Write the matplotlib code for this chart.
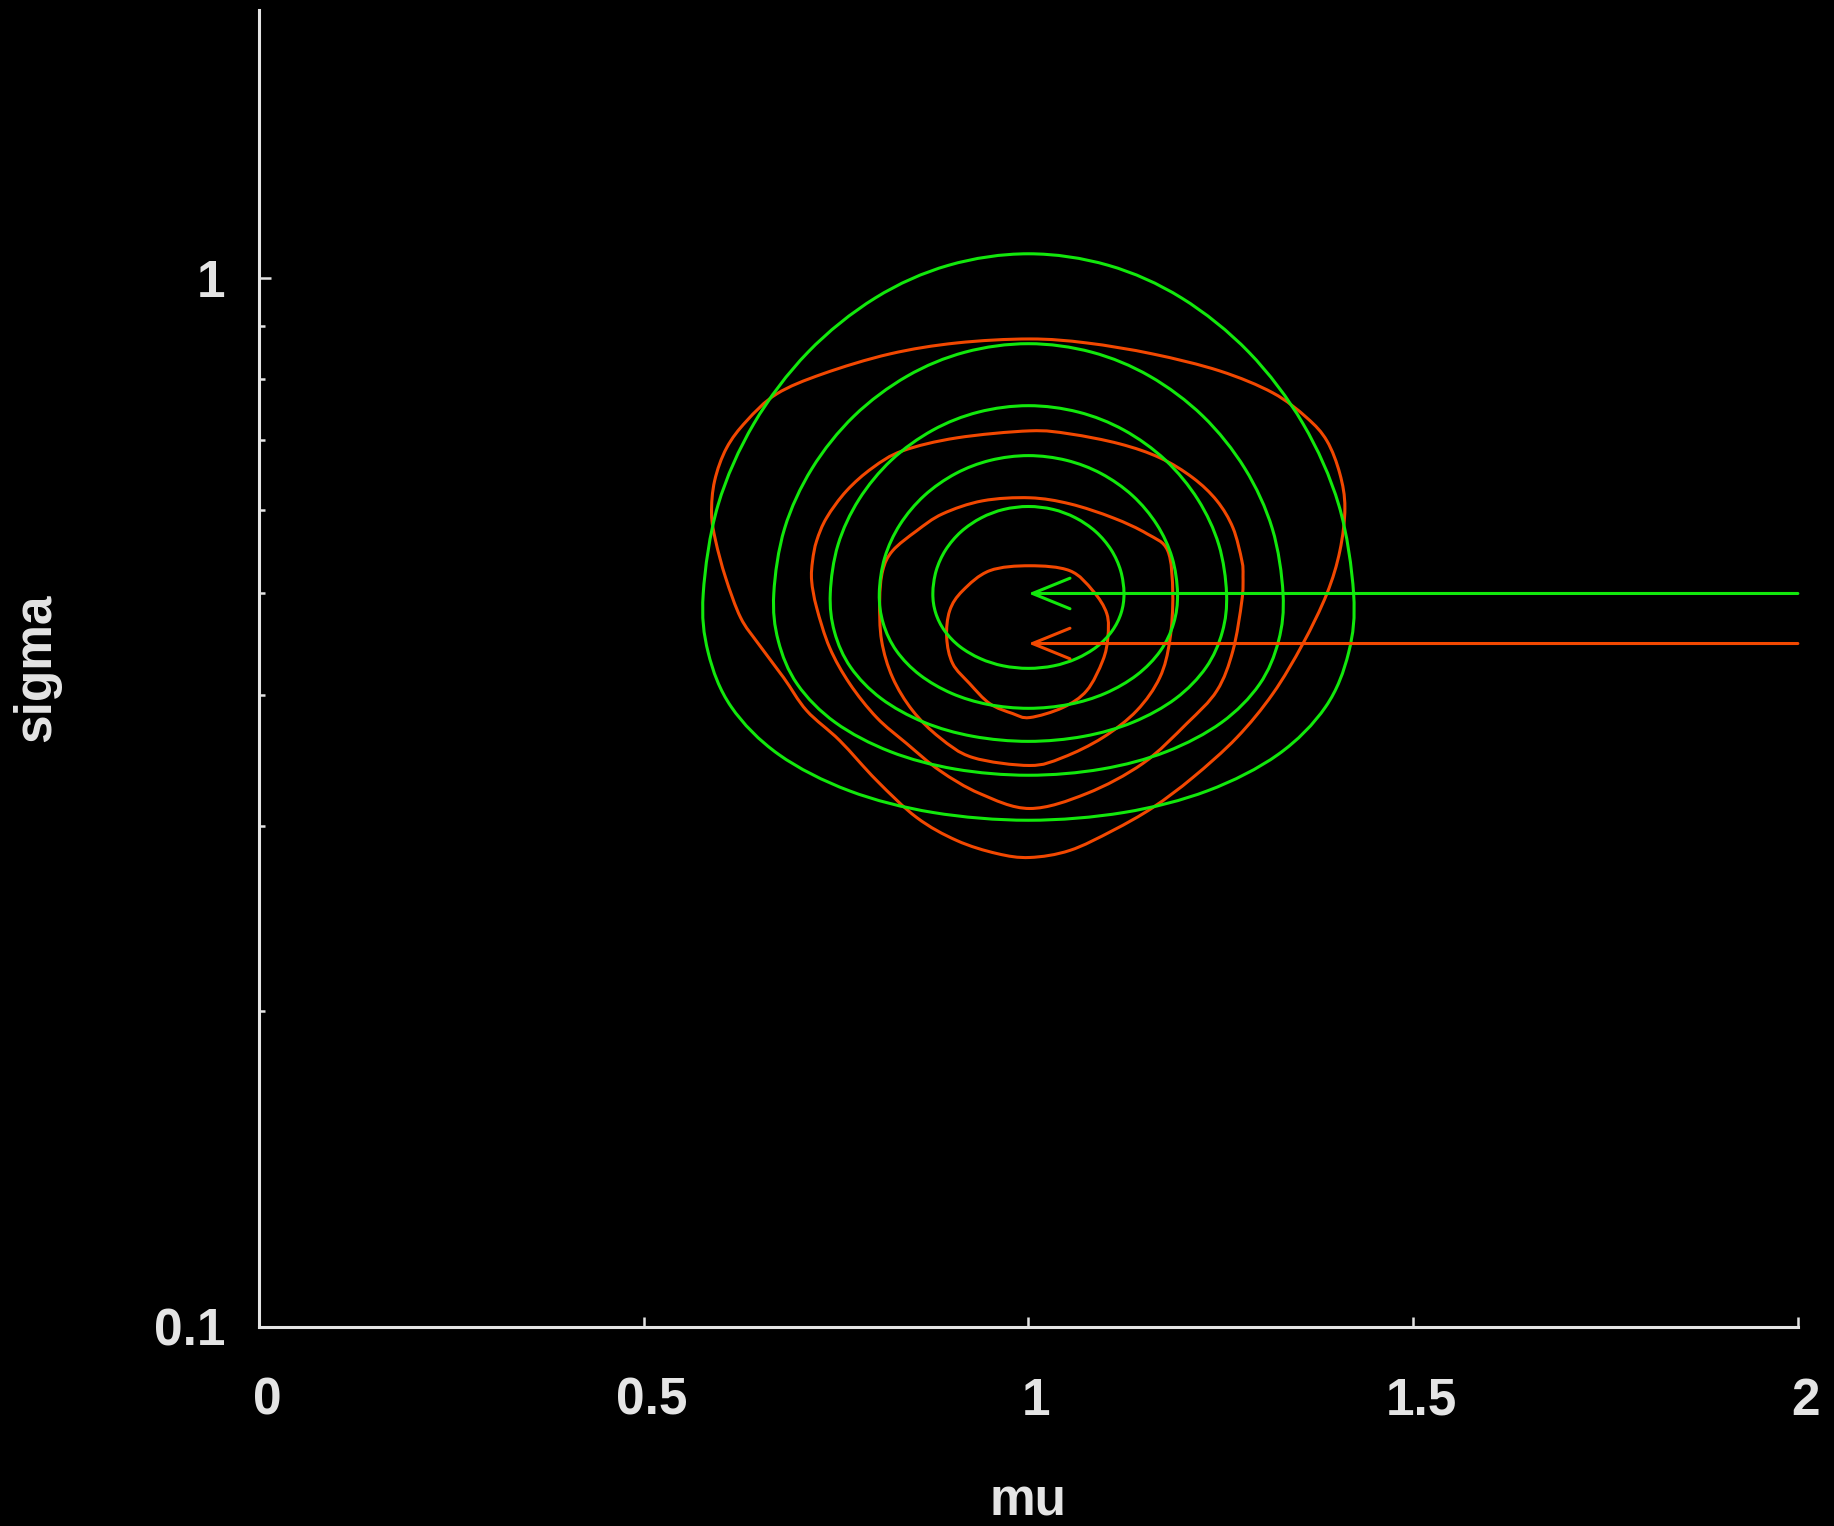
import numpy as np
import matplotlib
matplotlib.use('Agg')
import matplotlib.pyplot as plt
from matplotlib.path import Path
from matplotlib.patches import PathPatch
from matplotlib.ticker import FixedLocator, FixedFormatter, NullFormatter
from matplotlib.transforms import ScaledTranslation

# axis ticks
mu_ticks = [0, 0.5, 1, 1.5, 2]
mu_tick_labels = ['0', '0.5', '1', '1.5', '2']
sigma_ticks = [0.1, 1]
sigma_tick_labels = ['0.1', '1']
sigma_minor = [0.2, 0.3, 0.4, 0.5, 0.6, 0.7, 0.8, 0.9]

# exact posterior contours (green), sigma stored as log10
g1_mu = [1.4226, 1.4034, 1.3568, 1.2866, 1.1990, 1.1039, 1.0, 0.8961, 0.8010, 0.7134, 0.6432, 0.5966,
         0.5774, 0.5838, 0.6138, 0.6755, 0.7671, 0.8760, 1.0, 1.1240, 1.2329, 1.3245, 1.3862, 1.4162]
g1_lsig = [-0.301, -0.2168, -0.1391, -0.0711, -0.0193, 0.0118, 0.0228, 0.0118, -0.0193, -0.0711, -0.1391, -0.2168,
           -0.301, -0.3572, -0.4091, -0.4545, -0.4891, -0.5098, -0.5172, -0.5098, -0.4891, -0.4545, -0.4091, -0.3572]
g2_mu = [1.3309, 1.3169, 1.2813, 1.2267, 1.1577, 1.0824, 1.0, 0.9176, 0.8423, 0.7733, 0.7187, 0.6831,
         0.6691, 0.6749, 0.6998, 0.7490, 0.8206, 0.9047, 1.0, 1.0953, 1.1794, 1.2510, 1.3002, 1.3251]
g2_lsig = [-0.301, -0.2391, -0.1819, -0.1319, -0.0939, -0.0710, -0.0629, -0.0710, -0.0939, -0.1319, -0.1819, -0.2391,
           -0.301, -0.3461, -0.3877, -0.4240, -0.4518, -0.4684, -0.4743, -0.4684, -0.4518, -0.4240, -0.3877, -0.3461]
g3_mu = [1.2575, 1.2474, 1.2203, 1.1781, 1.1242, 1.0649, 1.0, 0.9351, 0.8758, 0.8219, 0.7797, 0.7526,
         0.7425, 0.7480, 0.7691, 0.8085, 0.8639, 0.9280, 1.0, 1.0720, 1.1361, 1.1915, 1.2309, 1.2520]
g3_lsig = [-0.301, -0.2545, -0.2115, -0.1739, -0.1453, -0.1281, -0.1220, -0.1281, -0.1453, -0.1739, -0.2115, -0.2545,
           -0.301, -0.3377, -0.3715, -0.4011, -0.4237, -0.4372, -0.4420, -0.4372, -0.4237, -0.4011, -0.3715, -0.3377]
g4_mu = [1.1938, 1.1867, 1.1669, 1.1353, 1.0945, 1.0495, 1.0, 0.9505, 0.9055, 0.8647, 0.8331, 0.8133,
         0.8062, 0.8113, 0.8286, 0.8590, 0.9004, 0.9475, 1.0, 1.0525, 1.0996, 1.1410, 1.1714, 1.1887]
g4_lsig = [-0.301, -0.2668, -0.2353, -0.2077, -0.1867, -0.1741, -0.1696, -0.1741, -0.1867, -0.2077, -0.2353, -0.2668,
           -0.301, -0.3295, -0.3558, -0.3787, -0.3963, -0.4068, -0.4105, -0.4068, -0.3963, -0.3787, -0.3558, -0.3295]
g5_mu = [1.1242, 1.1199, 1.1076, 1.0875, 1.0612, 1.0321, 1.0, 0.9679, 0.9388, 0.9125, 0.8924, 0.8801,
         0.8758, 0.8795, 0.8912, 0.9110, 0.9375, 0.9671, 1.0, 1.0329, 1.0625, 1.0890, 1.1088, 1.1205]
g5_lsig = [-0.301, -0.2794, -0.2595, -0.2421, -0.2289, -0.2209, -0.2181, -0.2209, -0.2289, -0.2421, -0.2595, -0.2794,
           -0.301, -0.3196, -0.3367, -0.3517, -0.3631, -0.3700, -0.3724, -0.3700, -0.3631, -0.3517, -0.3367, -0.3196]

# sampled contours (red), sigma stored as log10
r1_mu = [1.4113, 1.4048, 1.3879, 1.3619, 1.3177, 1.2488, 1.1616, 1.0758, 1.0017, 0.9068, 0.8197, 0.7326, 0.6728,
         0.6338, 0.6078, 0.5922, 0.5882, 0.5935, 0.6065, 0.6260, 0.6490, 0.6818, 0.7118, 0.7547, 0.8028, 0.8548,
         0.9068, 0.9588, 1.0017, 1.0537, 1.1096, 1.1616, 1.2136, 1.2708, 1.3177, 1.3567, 1.3879, 1.4048]
r1_lsig = [-0.2193, -0.1870, -0.1555, -0.1336, -0.1098, -0.0889, -0.0727, -0.0622, -0.0584, -0.0622, -0.0727, -0.0917,
           -0.1108, -0.1365, -0.1622, -0.1936, -0.2250, -0.2508, -0.2860, -0.3241, -0.3489, -0.3812, -0.4127, -0.4412,
           -0.4793, -0.5146, -0.5365, -0.5489, -0.5527, -0.5460, -0.5270, -0.5051, -0.4765, -0.4384, -0.3965, -0.3489,
           -0.3012, -0.2603]
r2_mu = [1.2789, 1.2774, 1.2658, 1.2450, 1.2138, 1.1709, 1.1187, 1.0537, 1.0017, 0.9068, 0.8366, 0.7975, 0.7637,
         0.7377, 0.7248, 0.7195, 0.7183, 0.7248, 0.7417, 0.7677, 0.8028, 0.8418, 0.8847, 0.9367, 1.0017, 1.0758,
         1.1486, 1.2058, 1.2450, 1.2658, 1.2774]
r2_lsig = [-0.2843, -0.2698, -0.2384, -0.2127, -0.1908, -0.1717, -0.1584, -0.1489, -0.1460, -0.1527, -0.1650, -0.1812,
           -0.2031, -0.2289, -0.2508, -0.2698, -0.2889, -0.3146, -0.3527, -0.3870, -0.4193, -0.4441, -0.4698, -0.4917,
           -0.5060, -0.4917, -0.4631, -0.4250, -0.3936, -0.3555, -0.3079]
r3_mu = [1.1876, 1.1811, 1.1541, 1.1099, 1.0540, 1.0017, 0.9405, 0.8885, 0.8547, 0.8235, 0.8106, 0.8067, 0.8092,
         0.8235, 0.8495, 0.8847, 0.9276, 1.0017, 1.0446, 1.0966, 1.1408, 1.1707, 1.1837]
r3_lsig = [-0.3014, -0.2603, -0.2441, -0.2289, -0.2156, -0.2098, -0.2127, -0.2251, -0.2413, -0.2603, -0.2793, -0.3079,
           -0.3460, -0.3812, -0.4127, -0.4384, -0.4574, -0.4650, -0.4574, -0.4384, -0.4127, -0.3812, -0.3460]
r4_mu = [1.1032, 1.1019, 1.0837, 1.0537, 1.0017, 0.9497, 0.9145, 0.8977, 0.8938, 0.9016, 0.9237, 0.9497, 0.9796,
         1.0017, 1.0446, 1.0758, 1.0966]
r4_lsig = [-0.3432, -0.3203, -0.2984, -0.2793, -0.2746, -0.2793, -0.2984, -0.3174, -0.3432, -0.3679, -0.3870, -0.4060,
           -0.4155, -0.4193, -0.4098, -0.3936, -0.3650]

# estimates pointed to by the arrows: (mu, sigma)
green_est = (1.0, 0.5)
red_est = (1.0, 0.448)
arrow_tail_mu = 2.0

GREEN = '#12e80c'
RED = '#f24800'
FG = '#e4e4e4'
LW = 2.2

plt.rcParams['font.family'] = ['Liberation Sans', 'DejaVu Sans']
plt.rcParams['font.weight'] = 'bold'

fig = plt.figure(figsize=(18.34, 15.26), dpi=100, facecolor='black')
ax = fig.add_axes([0.1412, 0.1306, 0.8391, 0.8629])
ax.set_facecolor('black')
ax.set_yscale('log')
ax.set_xlim(0, 2)
ax.set_ylim(0.1, 1.8)


def loop_path(mu, lsig):
    # closed curve through the vertices (Catmull-Rom as cubic Bezier),
    # built in (mu, log10 sigma) so it stays smooth on the log axis
    p = np.column_stack([mu, lsig])
    prv = np.roll(p, 1, axis=0)
    nxt = np.roll(p, -1, axis=0)
    nxt2 = np.roll(p, -2, axis=0)
    c1 = p + (nxt - prv) / 6.0
    c2 = nxt - (nxt2 - p) / 6.0
    verts = [p[0]]
    codes = [Path.MOVETO]
    for i in range(len(p)):
        verts += [c1[i], c2[i], nxt[i]]
        codes += [Path.CURVE4] * 3
    verts = np.array(verts)
    verts[:, 1] = np.power(10.0, verts[:, 1])
    return Path(verts, codes)


def draw_contour(mu, lsig, color):
    ax.add_patch(PathPatch(loop_path(mu, lsig), fill=False, edgecolor=color, lw=LW))


for mu, lsig in [(r1_mu, r1_lsig), (r2_mu, r2_lsig), (r3_mu, r3_lsig), (r4_mu, r4_lsig)]:
    draw_contour(mu, lsig, RED)
for mu, lsig in [(g1_mu, g1_lsig), (g2_mu, g2_lsig), (g3_mu, g3_lsig), (g4_mu, g4_lsig), (g5_mu, g5_lsig)]:
    draw_contour(mu, lsig, GREEN)

# arrows from the right edge to each estimate
for (mu0, sig0), col in [(red_est, RED), (green_est, GREEN)]:
    ax.annotate('', xy=(mu0, sig0), xytext=(arrow_tail_mu, sig0),
                arrowprops=dict(arrowstyle='->,head_length=27,head_width=11', mutation_scale=1,
                                color=col, lw=LW, shrinkA=0, shrinkB=0))

# spines
for side in ['top', 'right']:
    ax.spines[side].set_visible(False)
for side in ['left', 'bottom']:
    ax.spines[side].set_color(FG)
    ax.spines[side].set_linewidth(2.2)

# ticks
ax.xaxis.set_major_locator(FixedLocator(mu_ticks))
ax.xaxis.set_major_formatter(FixedFormatter(mu_tick_labels))
ax.yaxis.set_major_locator(FixedLocator(sigma_ticks))
ax.yaxis.set_major_formatter(FixedFormatter(sigma_tick_labels))
ax.yaxis.set_minor_locator(FixedLocator(sigma_minor))
ax.yaxis.set_minor_formatter(NullFormatter())
ax.xaxis.set_minor_locator(FixedLocator([]))
ax.tick_params(axis='both', which='both', direction='in', colors=FG, width=1.8, labelsize=37)
ax.tick_params(axis='x', which='major', length=7, pad=36)
ax.tick_params(axis='y', which='major', length=8.5, pad=24)
ax.tick_params(axis='y', which='minor', length=4.5)

shift = ScaledTranslation(0.08, 0, fig.dpi_scale_trans)
for lab in ax.get_xticklabels():
    lab.set_transform(lab.get_transform() + shift)

# axis titles
fig.text(0.0202, 0.5623, 'sigma', rotation=90, ha='center', va='center',
         color=FG, fontsize=37, fontweight='bold')
fig.text(0.5605, 0.016, 'mu', ha='center', va='center',
         color=FG, fontsize=37, fontweight='bold')

fig.savefig('out.png', dpi=100, facecolor='black')
